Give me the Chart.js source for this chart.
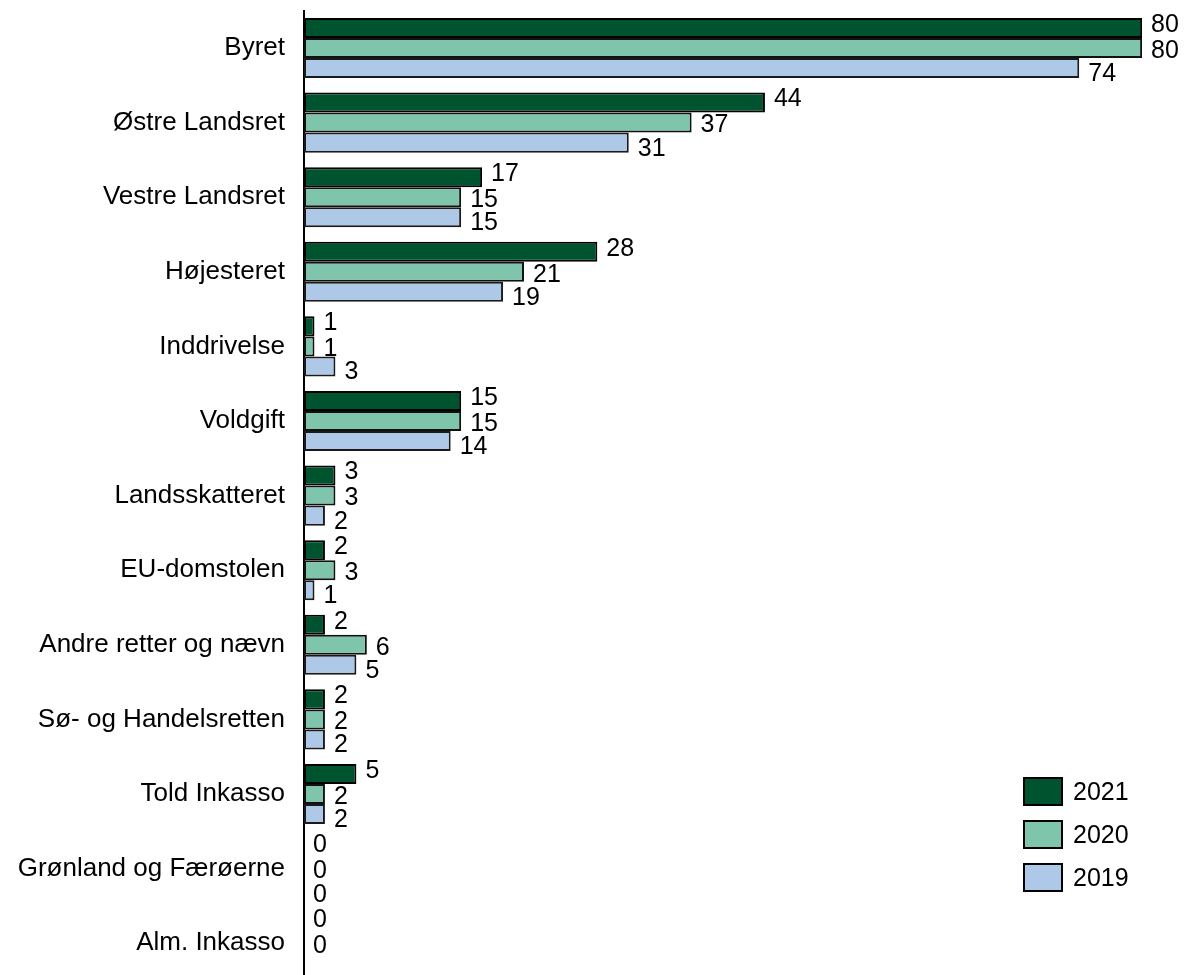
<!DOCTYPE html>
<html>
<head>
<meta charset="utf-8">
<script src="https://cdn.jsdelivr.net/npm/chart.js@4.4.0/dist/chart.umd.min.js"></script>
<style>
  html, body { margin: 0; padding: 0; background: #fff; overflow: hidden; }
  #wrap { position: relative; width: 1184px; height: 990px; }
</style>
</head>
<body>
<div id="wrap"><canvas id="retterChart" width="1184" height="990"></canvas></div>
<script>
/* data */
const categories = [
  'Byret', 'Østre Landsret', 'Vestre Landsret', 'Højesteret', 'Inddrivelse',
  'Voldgift', 'Landsskatteret', 'EU-domstolen', 'Andre retter og nævn',
  'Sø- og Handelsretten', 'Told Inkasso', 'Grønland og Færøerne', 'Alm. Inkasso'
];
const years    = ['2021', '2020', '2019'];
const vals2021 = [80, 44, 17, 28, 1, 15, 3, 2, 2, 2, 5, 0, 0];
const vals2020 = [80, 37, 15, 21, 1, 15, 3, 3, 6, 2, 2, 0, 0];
const vals2019 = [74, 31, 15, 19, 3, 14, 2, 1, 5, 2, 2, 0, null];

const colors  = ['#00532f', '#7fc5ab', '#aec8e8'];
const borders = ['#000000', '#111111', '#1a1a1a'];
const FONT = '"Liberation Sans", Arial, sans-serif';

/* value labels at bar ends (Excel-style spread) */
const labelPlugin = {
  id: 'valueLabels',
  afterDatasetsDraw(chart) {
    const ctx = chart.ctx;
    const offs = [-3, 3, 6];
    ctx.save();
    ctx.font = '25px ' + FONT;
    ctx.fillStyle = '#000';
    ctx.textBaseline = 'middle';
    ctx.textAlign = 'left';
    chart.data.datasets.forEach((ds, di) => {
      chart.getDatasetMeta(di).data.forEach((bar, i) => {
        const v = ds.data[i];
        if (v === null || v === undefined) return;
        ctx.fillText(String(v), bar.x + 9, bar.y + offs[di]);
      });
    });
    ctx.restore();
  }
};

/* legend box bottom right */
const legendPlugin = {
  id: 'boxLegend',
  afterDraw(chart) {
    const ctx = chart.ctx;
    ctx.save();
    ctx.font = '25px ' + FONT;
    ctx.textBaseline = 'middle';
    chart.data.datasets.forEach((ds, i) => {
      const y = 778 + i * 43;
      ctx.fillStyle = ds.backgroundColor;
      ctx.fillRect(1024, y, 38, 27);
      ctx.strokeStyle = '#000';
      ctx.lineWidth = 2;
      ctx.strokeRect(1024, y, 38, 27);
      ctx.fillStyle = '#000';
      ctx.fillText(ds.label, 1073, y + 15);
    });
    ctx.restore();
  }
};

new Chart(document.getElementById('retterChart'), {
  type: 'bar',
  data: {
    labels: categories,
    datasets: [vals2021, vals2020, vals2019].map((d, i) => ({
      label: years[i],
      data: d,
      backgroundColor: colors[i],
      borderColor: borders[i],
      borderWidth: 2,
      borderSkipped: false,
      barPercentage: 1,
      categoryPercentage: 0.805
    }))
  },
  options: {
    indexAxis: 'y',
    responsive: false,
    animation: false,
    layout: { padding: { top: 10.7, bottom: 9.5, left: 0, right: 0 } },
    plugins: { legend: { display: false }, tooltip: { enabled: false } },
    scales: {
      x: { display: false, min: 0, max: 84 },
      y: {
        grid: { display: false, drawTicks: false },
        border: { display: true, color: '#000', width: 2 },
        ticks: { color: '#000', font: { family: FONT, size: 26 }, padding: 19 },
        afterFit(scale) {
          scale.width = 304;
          scale.paddingTop = 0;
          scale.paddingBottom = 0;
        }
      }
    }
  },
  plugins: [labelPlugin, legendPlugin]
});
</script>
</body>
</html>
